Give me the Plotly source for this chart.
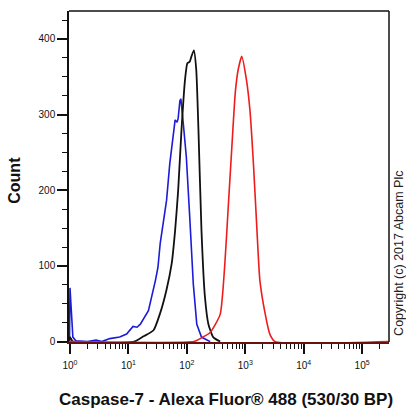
import plotly.graph_objects as go

# Fluorescence intensity (x) and event count (y) for each histogram
blue_x = [0.98, 1.0, 1.12, 1.26, 2.0, 2.8, 3.5, 4.8, 7.1, 9.3, 12, 14, 16, 22, 29, 32, 35, 40, 45, 51, 58, 63, 68, 71, 76, 79, 87, 98, 112, 129, 148, 178, 251]
blue_y = [0, 71, 6, 1, 0, 2, 0, 4, 6, 10, 20, 19, 23, 41, 81, 98, 130, 160, 187, 235, 270, 293, 290, 295, 318, 321, 288, 244, 165, 76, 23, 6, 0]

black_x = [0.96, 1.0, 1.12, 12.6, 18.2, 26.9, 34.7, 44.7, 55, 63, 71, 81, 93, 102, 112, 120, 132, 145, 158, 178, 204, 234, 282, 372]
black_y = [0, 6, 0, 0, 7, 15, 37, 68, 103, 147, 200, 280, 346, 368, 370, 377, 385, 359, 280, 147, 59, 23, 6, 0]

red_x = [0.96, 132, 170, 251, 372, 447, 513, 589, 676, 759, 871, 1047, 1202, 1380, 1585, 1778, 2188, 2630, 3236, 288000]
red_y = [0, 0, 4, 12, 36, 103, 180, 257, 330, 360, 377, 346, 306, 235, 147, 81, 37, 10, 0, 0]

y_ticks = [0, 100, 200, 300, 400]
x_tick_vals = [1, 10, 100, 1000, 10000, 100000]
x_tick_text = ["10<sup>0</sup>", "10<sup>1</sup>", "10<sup>2</sup>", "10<sup>3</sup>", "10<sup>4</sup>", "10<sup>5</sup>"]
x_title = "Caspase-7 - Alexa Fluor® 488 (530/30 BP)"
y_title = "Count"
copyright_text = "Copyright (c) 2017 Abcam Plc"

FONT = "Liberation Sans, Arial, sans-serif"

fig = go.Figure()
fig.add_trace(go.Scatter(x=blue_x, y=blue_y, mode="lines",
                         line=dict(color="#1c1cd8", width=1.6), hoverinfo="skip"))
fig.add_trace(go.Scatter(x=black_x, y=black_y, mode="lines",
                         line=dict(color="#111111", width=1.8, shape="spline", smoothing=0.5), hoverinfo="skip"))
fig.add_trace(go.Scatter(x=red_x, y=red_y, mode="lines",
                         line=dict(color="#ee1c1c", width=1.6, shape="spline", smoothing=0.5), hoverinfo="skip"))

fig.update_layout(
    width=406, height=412,
    margin=dict(l=69, r=17, t=11, b=70),
    paper_bgcolor="white", plot_bgcolor="white",
    showlegend=False,
    font=dict(family=FONT, color="#111111"),
)
fig.update_xaxes(
    type="log", range=[-0.017, 5.46],
    tickvals=x_tick_vals, ticktext=x_tick_text,
    showline=True, linecolor="#6a1010", linewidth=1.5, mirror=False,
    ticks="outside", ticklen=10, tickwidth=1.5, tickcolor="#111111",
    minor=dict(ticks="outside", ticklen=5, tickwidth=1, tickcolor="#111111", dtick="D1", showgrid=False),
    showgrid=False, zeroline=False,
    tickfont=dict(size=10, family=FONT, color="#111111"),
    ticklabelstandoff=3,
)
fig.update_yaxes(
    range=[-0.5, 437],
    tickvals=y_ticks,
    showline=True, linecolor="#111111", linewidth=1.5, mirror=False,
    ticks="outside", ticklen=10, tickwidth=1.5, tickcolor="#111111",
    minor=dict(ticks="outside", ticklen=5, tickwidth=1, tickcolor="#111111", dtick=25, showgrid=False),
    showgrid=False, zeroline=False,
    tickfont=dict(size=10, family=FONT, color="#111111"),
)
# top and right frame lines
fig.add_shape(type="line", xref="paper", yref="paper", x0=0, x1=1, y0=1, y1=1,
              line=dict(color="#111111", width=1.5))
fig.add_shape(type="line", xref="paper", yref="paper", x0=1, x1=1, y0=0, y1=1,
              line=dict(color="#111111", width=1.5))

fig.add_annotation(text=f"<b>{x_title}</b>", xref="paper", yref="paper",
                   x=0.49, y=-0.175, xanchor="center", yanchor="middle", showarrow=False,
                   font=dict(size=17, family=FONT, color="#111111"))
fig.add_annotation(text=f"<b>{y_title}</b>", xref="paper", yref="paper",
                   x=-0.169, y=0.49, xanchor="center", yanchor="middle", showarrow=False,
                   textangle=-90, font=dict(size=16, family=FONT, color="#111111"))
fig.add_annotation(text=copyright_text, xref="paper", yref="paper",
                   x=1.031, y=0.269, xanchor="center", yanchor="middle", showarrow=False,
                   textangle=-90, font=dict(size=12.5, family=FONT, color="#222222"))

fig.write_html(
    "out.html",
    config={"displayModeBar": False},
    post_script="document.body.style.margin='0';document.body.style.overflow='hidden';",
)
